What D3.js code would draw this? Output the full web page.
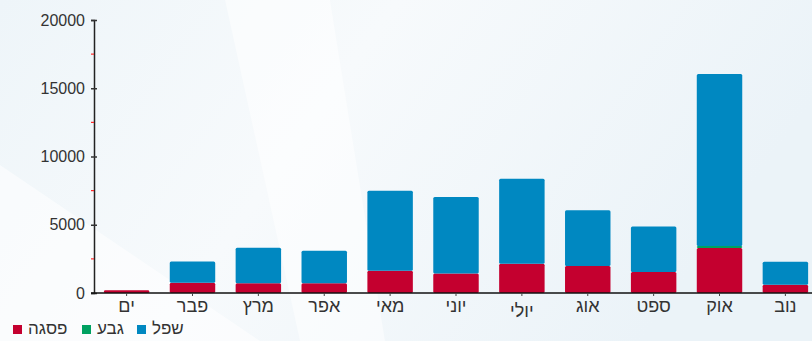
<!DOCTYPE html>
<html>
<head>
<meta charset="utf-8">
<script src="https://cdn.jsdelivr.net/npm/d3@7"></script>
<style>
    body { margin: 0; background: #f1f7fa; }
    svg { display: block; font-family: "Liberation Sans", Arial, sans-serif; }
</style>
</head>
<body>
<div id="container"></div>
<script>
// chart data
const months = ['ים', 'פבר', 'מרץ', 'אפר', 'מאי', 'יוני', 'יולי', 'אוג', 'ספט', 'אוק', 'נוב']
const peak = [200, 750, 710, 710, 1630, 1420, 2150, 1980, 1540, 3300, 610]
const mid = [0, 0, 0, 0, 0, 0, 0, 0, 0, 150, 0]
const low = [0, 1550, 2610, 2390, 5860, 5610, 6220, 4080, 3340, 12590, 1680]
const seriesNames = ['פסגה', 'גבע', 'שפל']
const seriesColors = ['#c4002f', '#00a161', '#0088c1']
const yTicks = [0, 5000, 10000, 15000, 20000]
const yMinor = [2500, 7500, 12500, 17500]

const width = 812
const height = 341
const margin = { top: 20, left: 94, bottom: 48 }

const svg = d3.select('#container').append('svg')
    .attr('width', width).attr('height', height)

// background
const defs = svg.append('defs')
const grad = defs.append('linearGradient').attr('id', 'bg')
    .attr('x1', 0).attr('y1', 0).attr('x2', 1).attr('y2', 0.3)
grad.append('stop').attr('offset', 0).attr('stop-color', '#eef5f9')
grad.append('stop').attr('offset', 0.45).attr('stop-color', '#f7fafc')
grad.append('stop').attr('offset', 1).attr('stop-color', '#ebf3f8')
svg.append('rect').attr('width', width).attr('height', height).attr('fill', 'url(#bg)')
svg.append('path').attr('d', 'M0,165 L0,341 L260,341 Z').attr('fill', '#ffffff').attr('opacity', 0.55)
svg.append('path').attr('d', 'M330,0 L225,0 L300,341 L385,341 Z').attr('fill', '#ffffff').attr('opacity', 0.5)

const data = months.map((m, i) => ({ month: m, peak: peak[i], mid: mid[i], low: low[i] }))
const stack = d3.stack().keys(['peak', 'mid', 'low'])(data)

const xScale = d3.scaleBand()
    .domain(months)
    .range([margin.left, 818])
    .paddingInner(0.31)
    .paddingOuter(0.15)

const yScale = d3.scaleLinear()
    .domain([0, 20000])
    .range([height - margin.bottom, margin.top])

// bars
svg.append('g').selectAll('g')
    .data(stack)
    .enter()
    .append('g')
    .attr('fill', (d, i) => seriesColors[i])
    .selectAll('rect')
    .data(d => d)
    .enter()
    .append('rect')
    .attr('x', d => xScale(d.data.month))
    .attr('y', d => yScale(d[1]))
    .attr('width', xScale.bandwidth())
    .attr('height', d => yScale(d[0]) - yScale(d[1]))
    .attr('rx', 1.5)

// y axis
const yAxis = d3.axisLeft(yScale).tickValues(yTicks).tickSize(3).tickPadding(6)
    .tickFormat(d3.format('d'))
const gy = svg.append('g').attr('id', 'y-axis')
    .attr('transform', `translate(${margin.left}, 0)`)
    .call(yAxis)
gy.select('.domain').attr('stroke', '#222').attr('stroke-width', 1.5)
gy.selectAll('.tick line').attr('x2', 3).attr('x1', -3).attr('stroke', '#333').attr('stroke-width', 1.5)
gy.selectAll('.tick text').attr('font-size', 16).attr('fill', '#333')
    .attr('font-family', '"Liberation Sans", Arial, sans-serif')

svg.append('g').selectAll('line')
    .data(yMinor)
    .enter()
    .append('line')
    .attr('x1', margin.left - 3).attr('x2', margin.left)
    .attr('y1', d => yScale(d)).attr('y2', d => yScale(d))
    .attr('stroke', '#ff2a2a').attr('stroke-width', 1.2)

// x axis
const xAxis = d3.axisBottom(xScale).tickSize(3).tickPadding(3).tickSizeOuter(0)
const gx = svg.append('g').attr('id', 'x-axis')
    .attr('transform', `translate(0, ${yScale(0)})`)
    .call(xAxis)
gx.select('.domain').attr('stroke', '#111').attr('stroke-width', 1.5).attr('d', `M91,0H${width}`)
gx.selectAll('.tick line').attr('stroke', '#444')
gx.selectAll('.tick text').attr('font-size', 18).attr('fill', '#333')
    .attr('font-family', '"DejaVu Sans", sans-serif').style('font-weight', 200)
    .attr('dy', d => d === 'יולי' ? '1.0em' : '0.71em')

// legend
const legend = svg.append('g').attr('id', 'legend')
    .attr('transform', `translate(13, 328)`)
const legendX = [0, 69, 124]
const item = legend.selectAll('g')
    .data(seriesNames)
    .enter()
    .append('g')
    .attr('transform', (d, i) => `translate(${legendX[i]}, 0)`)
item.append('rect')
    .attr('x', 0).attr('y', -3).attr('width', 9).attr('height', 9)
    .attr('fill', (d, i) => seriesColors[i])
item.append('text')
    .attr('x', 15).attr('y', 6)
    .attr('font-size', 17).attr('fill', '#333')
    .attr('font-family', '"DejaVu Sans", sans-serif').style('font-weight', 200)
    .text(d => d)
</script>
</body>
</html>
